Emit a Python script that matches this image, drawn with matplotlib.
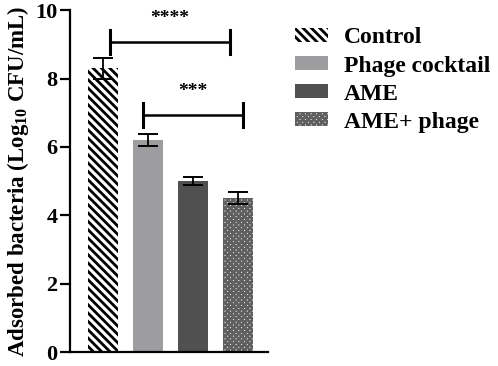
import matplotlib
matplotlib.use("Agg")
import matplotlib.pyplot as plt
from matplotlib.patches import Patch

categories = ["Control", "Phage cocktail", "AME", "AME+ phage"]
means = [8.3, 6.2, 5.0, 4.5]
errors = [0.3, 0.17, 0.12, 0.18]
yticks = [0, 2, 4, 6, 8, 10]
sig_pairs = [(0, 3, 9.06, "****"), (1, 3, 6.93, "***")]

plt.rcParams['font.family'] = ['Liberation Serif', 'DejaVu Serif']
plt.rcParams['font.weight'] = 'bold'
plt.rcParams['hatch.linewidth'] = 2.0
plt.rcParams['mathtext.fontset'] = 'custom'
plt.rcParams['mathtext.rm'] = 'Liberation Serif:bold'
plt.rcParams['mathtext.bf'] = 'Liberation Serif:bold'
plt.rcParams['mathtext.it'] = 'Liberation Serif:bold'

fig = plt.figure(figsize=(4.98, 3.66), dpi=100)
ax = fig.add_axes([0.141, 0.038, 0.397, 0.934])

facecolors = ["white", "#9d9d9f", "#505050", "white"]
hatches = ["\\\\\\\\", None, None, "xxxxxx"]
hatchcolors = ["black", None, None, "#606060"]
xs = list(range(len(categories)))
for i, (x, m) in enumerate(zip(xs, means)):
    b = ax.bar(x, m, width=0.67, color=facecolors[i], edgecolor='none',
               hatch=hatches[i], zorder=2)
    if hatchcolors[i]:
        b[0].set_edgecolor(hatchcolors[i])
        b[0].set_linewidth(0)
    ax.errorbar(x, m, yerr=errors[i], fmt='none', ecolor='black',
                elinewidth=1.3, capsize=7, capthick=1.4, zorder=3)

ax.set_xlim(-0.73, 3.67)
ax.set_ylim(0, 10)
ax.set_yticks(yticks)
ax.set_xticks([])
ax.spines['top'].set_visible(False)
ax.spines['right'].set_visible(False)
ax.spines['left'].set_linewidth(1.6)
ax.spines['bottom'].set_linewidth(1.6)
ax.tick_params(axis='y', width=1.6, length=7.5, labelsize=16, pad=1.5)
for lab in ax.get_yticklabels():
    lab.set_fontweight('bold')
ax.set_ylabel(r"Adsorbed bacteria (Log$_{10}$ CFU/mL)", fontsize=16.5,
              fontweight='bold', labelpad=3)

bracket_x = [(0.16, 2.82), (0.89, 3.11)]
for (pair, (x1, x2)) in zip(sig_pairs, bracket_x):
    i, j, y, txt = pair
    ax.plot([x1, x2], [y, y], color='black', lw=1.8, clip_on=False)
    ax.plot([x1, x1], [y - 0.35, y + 0.35], color='black', lw=2.2, clip_on=False)
    ax.plot([x2, x2], [y - 0.35, y + 0.35], color='black', lw=2.2, clip_on=False)
    ax.text((x1 + x2) / 2, y + 0.45, txt, ha='center', va='bottom',
            fontsize=14, fontweight='bold')

handles = []
for i in range(4):
    p = Patch(facecolor=facecolors[i], hatch=hatches[i],
              edgecolor=hatchcolors[i] if hatchcolors[i] else facecolors[i],
              linewidth=0)
    handles.append(p)
leg = fig.legend(handles, categories, loc='upper left',
                 bbox_to_anchor=(0.592, 0.925), frameon=False,
                 prop={'family': 'Liberation Serif', 'weight': 'bold', 'size': 17},
                 handlelength=1.4, handleheight=0.55, labelspacing=0.3,
                 handletextpad=0.68, borderaxespad=0, borderpad=0)

fig.savefig("out.png", dpi=100)
